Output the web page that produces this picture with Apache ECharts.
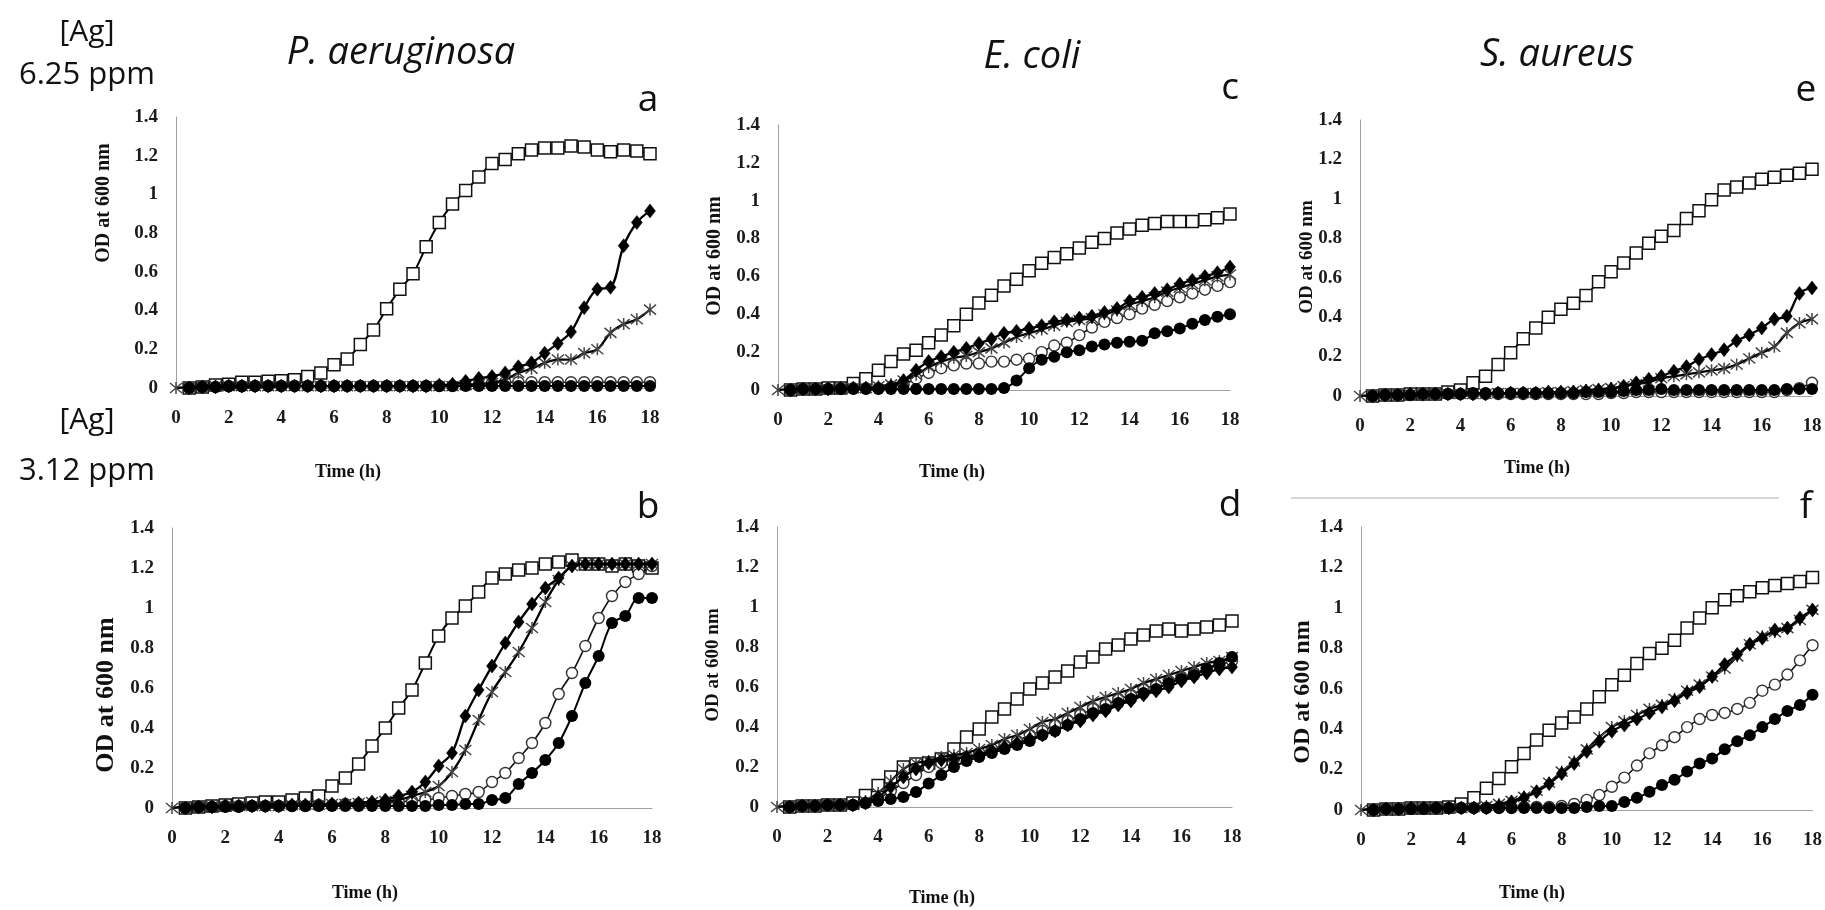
<!DOCTYPE html>
<html><head><meta charset="utf-8">
<script src="https://cdn.jsdelivr.net/npm/echarts@6/dist/echarts.min.js"></script>
<style>html,body{margin:0;padding:0;background:#fff}#c{width:1825px;height:910px}</style>
</head><body><div id="c"></div>
<script>
// time points (h)
const times = [0,0.5,1,1.5,2,2.5,3,3.5,4,4.5,
  5,5.5,6,6.5,7,7.5,8,8.5,9,9.5,
  10,10.5,11,11.5,12,12.5,13,13.5,14,14.5,
  15,15.5,16,16.5,17,17.5,18];
const xTicks = [0,2,4,6,8,10,12,14,16,18];
const yTicks = [0,0.2,0.4,0.6,0.8,1,1.2,1.4];

// Panel a : P. aeruginosa, 6.25 ppm
const a_square = [null,0,0.005,0.015,0.02,0.03,0.03,0.035,0.038,0.043,
  0.06,0.078,0.12,0.15,0.225,0.30,0.41,0.51,0.59,0.73,
  0.855,0.95,1.02,1.09,1.16,1.18,1.21,1.23,1.24,1.24,
  1.25,1.245,1.23,1.22,1.23,1.225,1.21];
const a_diamond = [null,0,0.005,0.005,0.01,0.01,0.01,0.01,0.01,0.01,
  0.01,0.01,0.01,0.01,0.01,0.01,0.01,0.01,0.01,0.01,
  0.015,0.02,0.035,0.05,0.06,0.078,0.11,0.13,0.18,0.23,
  0.29,0.415,0.51,0.52,0.735,0.855,0.915];
const a_star = [0,0.005,0.01,0.01,0.01,0.01,0.01,0.01,0.01,0.01,
  0.01,0.01,0.01,0.01,0.01,0.01,0.01,0.01,0.01,0.01,
  0.01,0.01,0.015,0.02,0.026,0.043,0.078,0.10,0.13,0.147,
  0.147,0.18,0.20,0.285,0.33,0.355,0.405];
const a_ocircle = [null,0,0.005,0.005,0.01,0.01,0.01,0.01,0.01,0.01,
  0.01,0.01,0.01,0.01,0.01,0.01,0.01,0.01,0.01,0.01,
  0.01,0.01,0.015,0.02,0.025,0.03,0.03,0.03,0.03,0.03,
  0.03,0.03,0.03,0.03,0.03,0.03,0.03];
const a_fcircle = [null,0,0.005,0.005,0.008,0.008,0.01,0.01,0.01,0.01,
  0.01,0.01,0.01,0.01,0.01,0.01,0.01,0.01,0.01,0.01,
  0.01,0.01,0.01,0.01,0.01,0.01,0.01,0.01,0.01,0.01,
  0.01,0.01,0.01,0.01,0.01,0.01,0.01];

// Panel b : P. aeruginosa, 3.12 ppm
const b_square = [null,0,0.005,0.01,0.015,0.02,0.025,0.03,0.03,0.04,
  0.05,0.06,0.11,0.15,0.22,0.31,0.40,0.50,0.59,0.725,
  0.86,0.95,1.01,1.08,1.15,1.17,1.19,1.20,1.22,1.23,
  1.24,1.22,1.22,1.21,1.22,1.21,1.20];
const b_diamond = [null,0,0.005,0.005,0.01,0.01,0.01,0.01,0.01,0.015,
  0.015,0.015,0.02,0.02,0.025,0.03,0.04,0.06,0.08,0.13,
  0.21,0.275,0.46,0.59,0.71,0.825,0.93,1.02,1.10,1.15,
  1.21,1.22,1.22,1.22,1.22,1.22,1.22];
const b_star = [0,0.005,0.005,0.01,0.01,0.01,0.01,0.01,0.01,0.015,
  0.015,0.015,0.02,0.02,0.025,0.03,0.035,0.04,0.06,0.08,
  0.11,0.18,0.29,0.44,0.58,0.68,0.78,0.90,1.03,1.14,
  1.21,1.22,1.22,1.22,1.22,1.22,1.22];
const b_ocircle = [null,0,0.005,0.005,0.01,0.01,0.01,0.01,0.01,0.01,
  0.01,0.015,0.015,0.02,0.02,0.02,0.025,0.03,0.035,0.04,
  0.05,0.06,0.07,0.08,0.13,0.175,0.25,0.325,0.425,0.57,
  0.675,0.81,0.95,1.06,1.13,1.17,1.21];
const b_fcircle = [null,0,0.005,0.005,0.005,0.005,0.01,0.01,0.01,0.01,
  0.01,0.01,0.01,0.01,0.01,0.01,0.01,0.01,0.01,0.01,
  0.015,0.015,0.02,0.02,0.04,0.05,0.12,0.175,0.24,0.325,
  0.46,0.625,0.76,0.925,0.96,1.05,1.05];

// Panel c : E. coli, 6.25 ppm
const c_square = [null,0,0.005,0.005,0.01,0.01,0.035,0.06,0.105,0.15,
  0.19,0.21,0.25,0.29,0.34,0.40,0.46,0.50,0.55,0.585,
  0.63,0.67,0.70,0.72,0.75,0.78,0.80,0.83,0.85,0.87,
  0.88,0.89,0.89,0.89,0.90,0.91,0.93];
const c_diamond = [null,0,0.005,0.005,0.005,0.01,0.01,0.01,0.01,0.02,
  0.05,0.105,0.15,0.176,0.20,0.22,0.246,0.27,0.30,0.31,
  0.325,0.34,0.36,0.37,0.38,0.39,0.41,0.43,0.47,0.49,
  0.51,0.53,0.56,0.58,0.60,0.62,0.65];
const c_star = [0,0.005,0.005,0.005,0.005,0.01,0.01,0.01,0.02,0.03,
  0.05,0.08,0.12,0.15,0.17,0.18,0.20,0.22,0.25,0.28,
  0.30,0.32,0.34,0.36,0.37,0.38,0.40,0.42,0.45,0.47,
  0.49,0.52,0.54,0.56,0.58,0.60,0.61];
const c_ocircle = [null,0,0.005,0.005,0.005,0.01,0.01,0.01,0.01,0.015,
  0.03,0.06,0.09,0.115,0.13,0.14,0.14,0.15,0.15,0.16,
  0.165,0.20,0.235,0.25,0.29,0.33,0.36,0.38,0.40,0.43,
  0.45,0.47,0.49,0.51,0.53,0.55,0.57];
const c_fcircle = [null,0,0.005,0.005,0.005,0.005,0.005,0.005,0.005,0.005,
  0.005,0.005,0.005,0.005,0.005,0.005,0.005,0.005,0.01,0.05,
  0.115,0.16,0.176,0.20,0.21,0.23,0.24,0.25,0.255,0.26,
  0.30,0.31,0.325,0.35,0.37,0.387,0.40];

// Panel d : E. coli, 3.12 ppm
const d_square = [null,0,0.005,0.005,0.01,0.01,0.02,0.058,0.108,0.15,
  0.20,0.215,0.22,0.24,0.29,0.35,0.39,0.45,0.49,0.54,
  0.59,0.62,0.65,0.68,0.725,0.75,0.79,0.81,0.84,0.86,
  0.88,0.89,0.88,0.89,0.90,0.91,0.93];
const d_diamond = [null,0,0.005,0.005,0.01,0.01,0.01,0.02,0.05,0.10,
  0.15,0.19,0.22,0.235,0.24,0.25,0.26,0.28,0.30,0.32,
  0.34,0.36,0.38,0.41,0.43,0.46,0.48,0.51,0.53,0.56,
  0.58,0.60,0.63,0.65,0.67,0.69,0.70];
const d_star = [0,0.005,0.005,0.005,0.01,0.01,0.01,0.03,0.07,0.13,
  0.19,0.22,0.23,0.25,0.26,0.27,0.29,0.31,0.34,0.36,
  0.39,0.425,0.44,0.47,0.50,0.53,0.55,0.57,0.59,0.62,
  0.64,0.66,0.68,0.70,0.72,0.73,0.75];
const d_ocircle = [null,0,0.005,0.005,0.01,0.01,0.01,0.02,0.04,0.08,
  0.12,0.16,0.20,0.22,0.24,0.25,0.27,0.29,0.31,0.33,
  0.36,0.38,0.41,0.43,0.46,0.49,0.51,0.54,0.56,0.59,
  0.61,0.63,0.65,0.67,0.69,0.71,0.73];
const d_fcircle = [null,0,0.005,0.005,0.01,0.01,0.01,0.02,0.03,0.04,
  0.05,0.075,0.117,0.16,0.20,0.23,0.25,0.27,0.29,0.31,
  0.33,0.36,0.38,0.41,0.44,0.47,0.49,0.52,0.54,0.57,
  0.59,0.62,0.64,0.66,0.69,0.72,0.75];

// Panel e : S. aureus, 6.25 ppm
const e_square = [null,0,0.005,0.005,0.01,0.01,0.01,0.02,0.03,0.067,
  0.10,0.16,0.22,0.29,0.345,0.40,0.44,0.47,0.51,0.58,
  0.63,0.675,0.725,0.775,0.81,0.84,0.90,0.94,0.995,1.045,
  1.06,1.08,1.10,1.11,1.12,1.13,1.15];
const e_diamond = [null,0,0.005,0.005,0.01,0.01,0.01,0.01,0.01,0.01,
  0.01,0.015,0.015,0.015,0.015,0.02,0.02,0.02,0.025,0.03,
  0.035,0.05,0.067,0.085,0.10,0.126,0.15,0.185,0.21,0.235,
  0.28,0.31,0.345,0.39,0.405,0.52,0.548];
const e_star = [0,0.005,0.01,0.01,0.01,0.01,0.01,0.01,0.01,0.01,
  0.01,0.015,0.015,0.015,0.015,0.02,0.02,0.025,0.03,0.035,
  0.04,0.05,0.06,0.07,0.09,0.10,0.11,0.12,0.13,0.14,
  0.16,0.19,0.22,0.25,0.32,0.37,0.39];
const e_ocircle = [null,0,0.005,0.005,0.005,0.005,0.01,0.01,0.01,0.01,
  0.01,0.01,0.01,0.01,0.01,0.01,0.01,0.01,0.01,0.01,
  0.015,0.015,0.02,0.02,0.02,0.02,0.02,0.02,0.02,0.02,
  0.02,0.02,0.02,0.02,0.03,0.04,0.067];
const e_fcircle = [null,0,0.005,0.005,0.005,0.01,0.01,0.01,0.01,0.015,
  0.015,0.015,0.015,0.015,0.015,0.015,0.015,0.015,0.02,0.02,
  0.02,0.025,0.03,0.03,0.035,0.03,0.03,0.03,0.03,0.03,
  0.03,0.03,0.03,0.03,0.035,0.035,0.035];

// Panel f : S. aureus, 3.12 ppm
const f_square = [null,0,0.005,0.005,0.01,0.01,0.01,0.015,0.03,0.06,
  0.107,0.156,0.214,0.28,0.346,0.395,0.43,0.46,0.50,0.56,
  0.62,0.667,0.725,0.774,0.80,0.84,0.90,0.95,1.00,1.04,
  1.06,1.08,1.10,1.11,1.12,1.13,1.15];
const f_diamond = [null,0,0.005,0.005,0.01,0.01,0.01,0.01,0.01,0.01,
  0.01,0.02,0.04,0.06,0.09,0.13,0.18,0.23,0.29,0.34,
  0.39,0.42,0.45,0.48,0.51,0.54,0.58,0.61,0.66,0.72,
  0.77,0.82,0.85,0.89,0.90,0.95,0.99];
const f_star = [0,0.005,0.005,0.01,0.01,0.01,0.01,0.01,0.01,0.015,
  0.02,0.03,0.045,0.065,0.095,0.135,0.19,0.24,0.30,0.36,
  0.41,0.44,0.47,0.50,0.52,0.55,0.59,0.62,0.66,0.70,
  0.76,0.82,0.86,0.88,0.90,0.94,0.99];
const f_ocircle = [null,0,0.005,0.005,0.01,0.01,0.01,0.01,0.01,0.01,
  0.01,0.01,0.01,0.015,0.015,0.015,0.02,0.03,0.05,0.074,
  0.115,0.16,0.22,0.28,0.32,0.36,0.41,0.45,0.47,0.48,
  0.50,0.53,0.59,0.62,0.67,0.74,0.815];
const f_fcircle = [null,0,0.005,0.005,0.005,0.005,0.01,0.01,0.01,0.01,
  0.01,0.01,0.01,0.01,0.01,0.01,0.01,0.01,0.015,0.02,
  0.02,0.04,0.06,0.09,0.124,0.15,0.19,0.23,0.255,0.30,
  0.34,0.37,0.41,0.45,0.49,0.52,0.57];

const species = ['P. aeruginosa','E. coli','S. aureus'];
const panelLetters = ['a','b','c','d','e','f'];
const concLabels = ['[Ag]','6.25 ppm','[Ag]','3.12 ppm'];
const xTitle = 'Time (h)';
const yTitle = 'OD at 600 nm';

const panels = [
  {sq:a_square, di:a_diamond, st:a_star, oc:a_ocircle, fc:a_fcircle},
  {sq:b_square, di:b_diamond, st:b_star, oc:b_ocircle, fc:b_fcircle},
  {sq:c_square, di:c_diamond, st:c_star, oc:c_ocircle, fc:c_fcircle},
  {sq:d_square, di:d_diamond, st:d_star, oc:d_ocircle, fc:d_fcircle},
  {sq:e_square, di:e_diamond, st:e_star, oc:e_ocircle, fc:e_fcircle},
  {sq:f_square, di:f_diamond, st:f_star, oc:f_ocircle, fc:f_fcircle}
];

// layout (pixels)
const grids = [
  {left:176, top:117, width:474, height:271},
  {left:172, top:528, width:480, height:280},
  {left:778, top:125, width:452, height:265},
  {left:777, top:527, width:455, height:280},
  {left:1360, top:120, width:452, height:276},
  {left:1361, top:527, width:453, height:283}
];

const serif = 'Liberation Serif';
const sans = '"Open Sans"';
const tickFont = {fontFamily:serif, fontWeight:'bold', fontSize:19, color:'#1a1a1a'};

const xAxes = [], yAxes = [], series = [];
grids.forEach((g,i)=>{
  xAxes.push({gridIndex:i, type:'value', min:0, max:18, interval:2,
    axisLine:{show:true, onZero:false, lineStyle:{color:'#a0a0a0', width:1}},
    axisTick:{show:false}, splitLine:{show:false},
    axisLabel:Object.assign({margin:21, formatter:v=>xTicks.includes(v)?String(v):''}, tickFont)});
  yAxes.push({gridIndex:i, type:'value', min:0, max:1.4, interval:0.2,
    axisLine:{show:true, lineStyle:{color:'#a0a0a0', width:1}},
    axisTick:{show:false}, splitLine:{show:false},
    axisLabel:Object.assign({margin:18, formatter:v=>{
      const t = yTicks.find(y=>Math.abs(y-v)<1e-6); return t===undefined?'':String(t);}}, tickFont)});
});

function pts(arr){
  return times.map((t,k)=>[t,arr[k]]).filter(p=>p[1]!==null);
}
const starPath = 'path://M0,0L10,10M10,0L0,10M5,-1L5,11';
panels.forEach((p,i)=>{
  const base = {type:'line', xAxisIndex:i, yAxisIndex:i, smooth:0.35, showSymbol:true,
    animation:false, silent:true};
  series.push(Object.assign({}, base, {data:pts(p.sq), symbol:'rect', symbolSize:12,
    itemStyle:{color:'#fff', borderColor:'#111', borderWidth:1.5},
    lineStyle:{color:'#000', width:2}, z:2}));
  series.push(Object.assign({}, base, {data:pts(p.oc), symbol:'circle', symbolSize:11,
    itemStyle:{color:'#fff', borderColor:'#333', borderWidth:1.4},
    lineStyle:{color:'#111', width:1.6}, z:3}));
  series.push(Object.assign({}, base, {data:pts(p.st), symbol:starPath, symbolSize:12,
    itemStyle:{color:'rgba(0,0,0,0)', borderColor:'#444', borderWidth:1.5},
    lineStyle:{color:'#000', width:2.3}, z:4}));
  series.push(Object.assign({}, base, {data:pts(p.di), symbol:'diamond', symbolSize:[11,14],
    itemStyle:{color:'#000', borderColor:'#000', borderWidth:0.5},
    lineStyle:{color:'#000', width:2.3}, z:5}));
  series.push(Object.assign({}, base, {data:pts(p.fc), symbol:'circle', symbolSize:12,
    itemStyle:{color:'#000'},
    lineStyle:{color:'#000', width:2}, z:6}));
});

function txt(text, x, y, font, extra){
  return Object.assign({type:'text', x:x, y:y, silent:true,
    style:{text:text, font:font, fill:'#111', align:'center', verticalAlign:'middle',
      textAlign:'center', textVerticalAlign:'middle'}}, extra||{});
}
const graphics = [
  txt(concLabels[0], 87, 32, '30px '+sans),
  txt(concLabels[1], 87, 75, '31px '+sans),
  txt(concLabels[2], 87, 420, '30px '+sans),
  txt(concLabels[3], 87, 471, '31px '+sans),
  txt(species[0], 401, 53, 'italic 38px '+sans),
  txt(species[1], 1032, 57, 'italic 38px '+sans),
  txt(species[2], 1557, 55, 'italic 38px '+sans),
  txt(panelLetters[0], 648, 100, '37px '+sans),
  txt(panelLetters[1], 648, 507, '37px '+sans),
  txt(panelLetters[2], 1230, 88, '37px '+sans),
  txt(panelLetters[3], 1230, 505, '37px '+sans),
  txt(panelLetters[4], 1806, 90, '37px '+sans),
  txt(panelLetters[5], 1806, 507, '37px '+sans),
  txt(xTitle, 348, 472, 'bold 18px '+serif),
  txt(xTitle, 365, 893, 'bold 18px '+serif),
  txt(xTitle, 952, 472, 'bold 18px '+serif),
  txt(xTitle, 942, 898, 'bold 18px '+serif),
  txt(xTitle, 1537, 468, 'bold 18px '+serif),
  txt(xTitle, 1532, 893, 'bold 18px '+serif),
  txt(yTitle, 104, 203, 'bold 20px '+serif, {rotation:Math.PI/2}),
  txt(yTitle, 106, 695, 'bold 26px '+serif, {rotation:Math.PI/2}),
  txt(yTitle, 715, 256, 'bold 20px '+serif, {rotation:Math.PI/2}),
  txt(yTitle, 713, 665, 'bold 19px '+serif, {rotation:Math.PI/2}),
  txt(yTitle, 1307, 257, 'bold 19px '+serif, {rotation:Math.PI/2}),
  txt(yTitle, 1303, 692, 'bold 24px '+serif, {rotation:Math.PI/2}),
  {type:'line', silent:true, shape:{x1:1291, y1:498, x2:1779, y2:498},
    style:{stroke:'#b0b0b0', lineWidth:1}}
];

const chart = echarts.init(document.getElementById('c'), null, {renderer:'canvas'});
chart.setOption({
  animation:false,
  backgroundColor:'#fff',
  grid: grids.map(g=>Object.assign({containLabel:false}, g)),
  xAxis: xAxes, yAxis: yAxes, series: series, graphic: graphics
});
</script></body></html>
